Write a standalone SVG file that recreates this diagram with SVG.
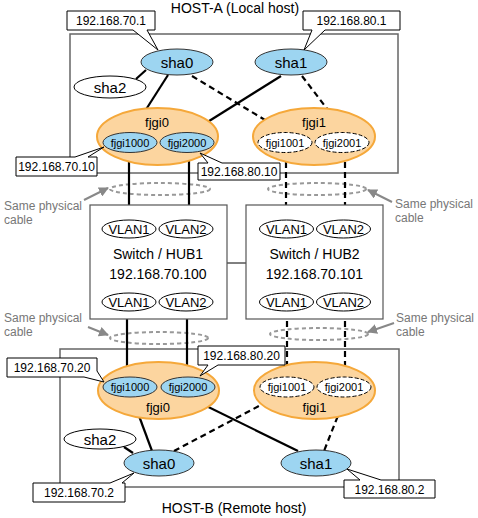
<svg xmlns="http://www.w3.org/2000/svg" width="478" height="518" viewBox="0 0 478 518">
<defs>
<style>
text{font-family:"Liberation Sans",Arial,sans-serif;fill:#000}
.host{fill:none;stroke:#666;stroke-width:1.5}
.sw{fill:#fff;stroke:#555;stroke-width:1.2}
.blue{fill:#9dd5f1;stroke:#333;stroke-width:1}
.white{fill:#fff;stroke:#000;stroke-width:1}
.wdash{fill:#fff;stroke:#000;stroke-width:1;stroke-dasharray:4 2}
.org{fill:#fcd59f;stroke:#f5a83a;stroke-width:2}
.solid{stroke:#000;stroke-width:2.2;fill:none}
.dash{stroke:#000;stroke-width:2.2;fill:none;stroke-dasharray:6 4}
.thin{stroke:#000;stroke-width:1;fill:none}
.cable{fill:none;stroke:#999;stroke-width:2;stroke-dasharray:4 3}
.garr{stroke:#888;stroke-width:2;fill:none}
.call{fill:#fff;stroke:#000;stroke-width:1}
.ip{font-size:12px}
.gray{font-size:12px;fill:#777}
.sha{font-size:15px}
.fj{font-size:13px}
.sub{font-size:11px}
.vl{font-size:13px}
.swt{font-size:14px}
</style>
<marker id="ga" viewBox="0 0 10 10" refX="9" refY="5" markerWidth="5" markerHeight="5" orient="auto" markerUnits="strokeWidth">
<path d="M0,0 L10,5 L0,10 z" fill="#888"/>
</marker>
</defs>

<g id="host-a">
<rect class="host" x="70" y="34" width="328" height="139"/>
<text x="235" y="13" font-size="14" text-anchor="middle">HOST-A (Local host)</text>
</g>
<g id="host-b">
<rect class="host" x="60" y="349" width="339" height="138"/>
<text x="234" y="513" font-size="14" text-anchor="middle">HOST-B (Remote host)</text>
</g>

<g id="cables">
<ellipse class="cable" cx="160" cy="189" rx="50" ry="6"/>
<ellipse class="cable" cx="317" cy="189" rx="49" ry="6"/>
<ellipse class="cable" cx="159" cy="338" rx="49" ry="6"/>
<ellipse class="cable" cx="319" cy="334" rx="49" ry="6"/>
<line class="garr" x1="84" y1="200" x2="108" y2="188" marker-end="url(#ga)"/>
<line class="garr" x1="392" y1="202" x2="368" y2="190" marker-end="url(#ga)"/>
<line class="garr" x1="88" y1="327" x2="108" y2="335" marker-end="url(#ga)"/>
<line class="garr" x1="394" y1="323" x2="368" y2="332" marker-end="url(#ga)"/>
<text class="gray" x="4" y="210">Same physical</text>
<text class="gray" x="4" y="224">cable</text>
<text class="gray" x="395" y="208">Same physical</text>
<text class="gray" x="395" y="222">cable</text>
<text class="gray" x="4" y="322">Same physical</text>
<text class="gray" x="4" y="336">cable</text>
<text class="gray" x="396" y="322">Same physical</text>
<text class="gray" x="396" y="336">cable</text>
</g>

<g id="connectors">
<line class="thin" x1="227" y1="263" x2="246" y2="263"/>
<!-- host A -->
<line class="solid" x1="146" y1="70" x2="136" y2="79"/>
<line class="solid" x1="168" y1="75" x2="131" y2="133"/>
<line class="dash" x1="192" y1="76" x2="285" y2="132"/>
<line class="solid" x1="281" y1="76" x2="190" y2="133"/>
<line class="dash" x1="302" y1="76" x2="344" y2="131"/>
<!-- verticals -->
<line class="solid" x1="129" y1="152" x2="129" y2="220"/>
<line class="solid" x1="189" y1="152" x2="189" y2="220"/>
<line class="dash" x1="286" y1="152" x2="286" y2="220"/>
<line class="dash" x1="345" y1="152" x2="345" y2="220"/>
<line class="solid" x1="127" y1="311" x2="127" y2="377"/>
<line class="solid" x1="187" y1="311" x2="187" y2="377"/>
<line class="dash" x1="287" y1="311" x2="287" y2="377"/>
<line class="dash" x1="345" y1="311" x2="345" y2="377"/>
<!-- host B -->
<line class="solid" x1="132" y1="397" x2="152" y2="451"/>
<line class="solid" x1="124" y1="447" x2="133" y2="453"/>
<line class="solid" x1="188" y1="397" x2="298" y2="451"/>
<line class="dash" x1="174" y1="451" x2="276" y2="397"/>
<line class="dash" x1="345" y1="398" x2="324" y2="451"/>
</g>

<g id="sha0-a"><ellipse class="blue" cx="177" cy="62" rx="36" ry="13"/><text class="sha" x="177" y="67.5" text-anchor="middle">sha0</text></g>
<g id="sha1-a"><ellipse class="blue" cx="291" cy="62" rx="36" ry="13"/><text class="sha" x="291" y="67.5" text-anchor="middle">sha1</text></g>
<g id="sha2-a"><ellipse class="white" cx="110" cy="87" rx="36" ry="11"/><text class="sha" x="110" y="92.5" text-anchor="middle">sha2</text></g>

<g id="fjgi0-a">
<ellipse class="org" cx="157.5" cy="136.5" rx="60.5" ry="28.5"/>
<text class="fj" x="157" y="127" text-anchor="middle">fjgi0</text>
<ellipse class="blue" cx="130" cy="142.5" rx="27" ry="10"/><text class="sub" x="130" y="146.5" text-anchor="middle">fjgi1000</text>
<ellipse class="blue" cx="187" cy="142.5" rx="27" ry="10"/><text class="sub" x="187" y="146.5" text-anchor="middle">fjgi2000</text>
</g>
<g id="fjgi1-a">
<ellipse class="org" cx="314" cy="136.5" rx="61" ry="28.5"/>
<text class="fj" x="314" y="127" text-anchor="middle">fjgi1</text>
<ellipse class="wdash" cx="285" cy="142.5" rx="27" ry="10"/><text class="sub" x="285" y="146.5" text-anchor="middle">fjgi1001</text>
<ellipse class="wdash" cx="342" cy="142.5" rx="27" ry="10"/><text class="sub" x="342" y="146.5" text-anchor="middle">fjgi2001</text>
</g>

<g id="switch1">
<rect class="sw" x="90" y="205" width="137" height="114"/>
<ellipse class="white" cx="129" cy="229" rx="27" ry="9"/><text class="vl" x="129" y="233.5" text-anchor="middle">VLAN1</text>
<ellipse class="white" cx="186" cy="229" rx="27" ry="9"/><text class="vl" x="186" y="233.5" text-anchor="middle">VLAN2</text>
<text class="swt" x="158" y="259" text-anchor="middle">Switch / HUB1</text>
<text class="swt" x="158" y="279" text-anchor="middle">192.168.70.100</text>
<ellipse class="white" cx="129" cy="302" rx="27" ry="9"/><text class="vl" x="129" y="306.5" text-anchor="middle">VLAN1</text>
<ellipse class="white" cx="186" cy="302" rx="27" ry="9"/><text class="vl" x="186" y="306.5" text-anchor="middle">VLAN2</text>
</g>
<g id="switch2">
<rect class="sw" x="246" y="205" width="137" height="114"/>
<ellipse class="white" cx="286.5" cy="229" rx="27" ry="9"/><text class="vl" x="286.5" y="233.5" text-anchor="middle">VLAN1</text>
<ellipse class="white" cx="343.5" cy="229" rx="27" ry="9"/><text class="vl" x="343.5" y="233.5" text-anchor="middle">VLAN2</text>
<text class="swt" x="314.5" y="259" text-anchor="middle">Switch / HUB2</text>
<text class="swt" x="314.5" y="279" text-anchor="middle">192.168.70.101</text>
<ellipse class="white" cx="286.5" cy="302" rx="27" ry="9"/><text class="vl" x="286.5" y="306.5" text-anchor="middle">VLAN1</text>
<ellipse class="white" cx="343.5" cy="302" rx="27" ry="9"/><text class="vl" x="343.5" y="306.5" text-anchor="middle">VLAN2</text>
</g>

<g id="fjgi0-b">
<ellipse class="org" cx="158.5" cy="390.5" rx="60.5" ry="28.5"/>
<text class="fj" x="158" y="412" text-anchor="middle">fjgi0</text>
<ellipse class="blue" cx="130" cy="387" rx="27" ry="10"/><text class="sub" x="130" y="391" text-anchor="middle">fjgi1000</text>
<ellipse class="blue" cx="188" cy="387" rx="27" ry="10"/><text class="sub" x="188" y="391" text-anchor="middle">fjgi2000</text>
</g>
<g id="fjgi1-b">
<ellipse class="org" cx="314.5" cy="390.5" rx="60.5" ry="28.5"/>
<text class="fj" x="314.5" y="412" text-anchor="middle">fjgi1</text>
<ellipse class="wdash" cx="287" cy="387" rx="27" ry="10"/><text class="sub" x="287" y="391" text-anchor="middle">fjgi1001</text>
<ellipse class="wdash" cx="344" cy="387" rx="27" ry="10"/><text class="sub" x="344" y="391" text-anchor="middle">fjgi2001</text>
</g>

<g id="sha2-b"><ellipse class="white" cx="100" cy="439" rx="36" ry="10"/><text class="sha" x="100" y="444.5" text-anchor="middle">sha2</text></g>
<g id="sha0-b"><ellipse class="blue" cx="159" cy="463" rx="35" ry="13"/><text class="sha" x="159" y="468.5" text-anchor="middle">sha0</text></g>
<g id="sha1-b"><ellipse class="blue" cx="316" cy="463" rx="35" ry="13"/><text class="sha" x="316" y="468.5" text-anchor="middle">sha1</text></g>

<g id="label-70-1"><path class="call" d="M67,11 H155 V30 H147 L158,50 L133,30 H67 Z"/><text class="ip" x="111" y="25" text-anchor="middle">192.168.70.1</text></g>
<g id="label-80-1"><path class="call" d="M303,11 H400 V30 H325 L304,50 L312,30 H303 Z"/><text class="ip" x="351.5" y="25" text-anchor="middle">192.168.80.1</text></g>
<g id="label-70-10"><path class="call" d="M16,157 H75 L104,147 L88,157 H97 V176 H16 Z"/><text class="ip" x="56.5" y="171" text-anchor="middle">192.168.70.10</text></g>
<g id="label-80-10"><path class="call" d="M198,163 H208 L200,153 L222,163 H280 V180 H198 Z"/><text class="ip" x="239" y="176" text-anchor="middle">192.168.80.10</text></g>
<g id="label-70-20"><path class="call" d="M7,358 H97 V371 L104,382 L84,377 H7 Z"/><text class="ip" x="52" y="372" text-anchor="middle">192.168.70.20</text></g>
<g id="label-80-20"><path class="call" d="M198,346 H285 V365 H218 L200,376 L208,365 H198 Z"/><text class="ip" x="241.5" y="360" text-anchor="middle">192.168.80.20</text></g>
<g id="label-70-2"><path class="call" d="M33,483 H110 L134,473 L122,483 H125 V502 H33 Z"/><text class="ip" x="79" y="497" text-anchor="middle">192.168.70.2</text></g>
<g id="label-80-2"><path class="call" d="M344,480 H360 L347,469 L381,480 H435 V498 H344 Z"/><text class="ip" x="389.5" y="494" text-anchor="middle">192.168.80.2</text></g>
</svg>
